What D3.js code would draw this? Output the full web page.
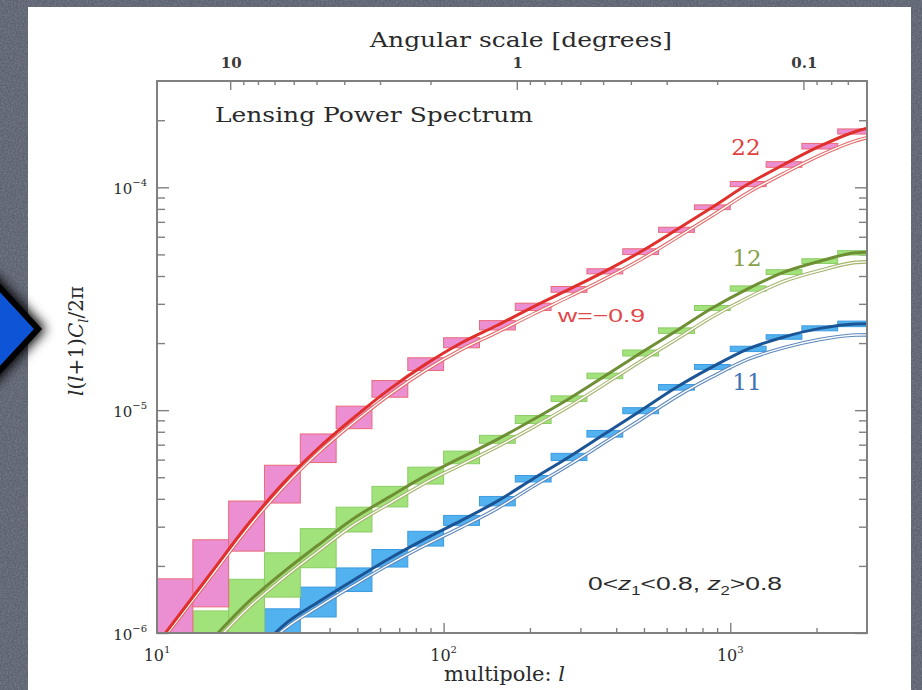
<!DOCTYPE html>
<html>
<head>
<meta charset="utf-8">
<script src="https://cdn.jsdelivr.net/npm/d3@7"></script>
<style>
  html, body { margin: 0; padding: 0; background: #5c6170; }
  svg { display: block; }
</style>
</head>
<body>
<svg id="chart" width="922" height="690"></svg>
<script>
// ---- Data -------------------------------------------------------------
// Multipole bins (8 per decade), last edge cut at the plot limit
const binEdges = [10, 13.34, 17.78, 23.71, 31.62, 42.17, 56.23, 74.99, 100, 133.4,
                  177.8, 237.1, 316.2, 421.7, 562.3, 749.9, 1000, 1334, 1778, 2371, 3000];

// Band-power error boxes (lower / upper edge of each bin)
const box22Lo = [7.1e-7, 1.31e-6, 2.33e-6, 3.83e-6, 5.82e-6, 8.26e-6, 1.143e-5, 1.507e-5, 1.905e-5, 2.291e-5,
                 2.80e-5, 3.38e-5, 4.09e-5, 4.99e-5, 6.28e-5, 7.94e-5, 1.007e-4, 1.230e-4, 1.486e-4, 1.734e-4];
const box22Hi = [1.75e-6, 2.62e-6, 3.91e-6, 5.66e-6, 7.82e-6, 1.042e-5, 1.358e-5, 1.718e-5, 2.113e-5, 2.523e-5,
                 3.02e-5, 3.59e-5, 4.31e-5, 5.30e-5, 6.62e-5, 8.34e-5, 1.062e-4, 1.303e-4, 1.574e-4, 1.828e-4];
const box12Lo = [null, 6.3e-7, 9.5e-7, 1.449e-6, 1.963e-6, 2.84e-6, 3.68e-6, 4.66e-6, 5.75e-6, 7.10e-6,
                 8.71e-6, 1.094e-5, 1.384e-5, 1.750e-5, 2.21e-5, 2.80e-5, 3.42e-5, 4.06e-5, 4.55e-5, 4.97e-5];
const box12Hi = [null, 1.256e-6, 1.742e-6, 2.29e-6, 2.94e-6, 3.67e-6, 4.55e-6, 5.55e-6, 6.55e-6, 7.71e-6,
                 9.46e-6, 1.159e-5, 1.466e-5, 1.862e-5, 2.34e-5, 2.95e-5, 3.61e-5, 4.27e-5, 4.78e-5, 5.20e-5];
const box11Lo = [null, null, null, 7.6e-7, 1.180e-6, 1.535e-6, 1.977e-6, 2.455e-6, 3.04e-6, 3.72e-6,
                 4.76e-6, 5.94e-6, 7.57e-6, 9.64e-6, 1.230e-5, 1.524e-5, 1.832e-5, 2.08e-5, 2.27e-5, 2.37e-5];
const box11Hi = [null, null, null, 1.284e-6, 1.607e-6, 1.959e-6, 2.37e-6, 2.86e-6, 3.37e-6, 4.10e-6,
                 5.09e-6, 6.40e-6, 8.11e-6, 1.026e-5, 1.303e-5, 1.603e-5, 1.936e-5, 2.18e-5, 2.39e-5, 2.51e-5];

// Model curves sampled in multipole
const ell = [10, 11.55, 15.40, 20.54, 27.38, 36.52, 48.70, 64.94, 86.60, 115.5, 154.0,
             205.4, 273.8, 365.2, 487.0, 649.4, 866.0, 1155, 1540, 2054, 2738, 3000];

// Fiducial model (thick lines)
const fid22 = [8.91e-7, 1.138e-6, 1.854e-6, 3.020e-6, 4.656e-6, 6.745e-6, 9.279e-6, 1.246e-5, 1.609e-5, 2.007e-5, 2.404e-5,
               2.908e-5, 3.483e-5, 4.198e-5, 5.140e-5, 6.449e-5, 8.138e-5, 1.034e-4, 1.266e-4, 1.529e-4, 1.781e-4, 1.841e-4];
const fid12 = [null, null, 9.23e-7, 1.355e-6, 1.862e-6, 2.483e-6, 3.273e-6, 4.093e-6, 5.082e-6, 6.138e-6, 7.396e-6,
               9.078e-6, 1.126e-5, 1.424e-5, 1.805e-5, 2.273e-5, 2.874e-5, 3.512e-5, 4.165e-5, 4.662e-5, 5.082e-5, 5.111e-5];
const fid11 = [null, null, null, 7.24e-7, 1.072e-6, 1.377e-6, 1.734e-6, 2.165e-6, 2.652e-6, 3.203e-6, 3.905e-6,
               4.926e-6, 6.166e-6, 7.834e-6, 9.943e-6, 1.266e-5, 1.563e-5, 1.884e-5, 2.131e-5, 2.328e-5, 2.438e-5, 2.443e-5];

// w = -0.9 model (thin outlined lines)
const alt22 = [8.67e-7, 1.102e-6, 1.786e-6, 2.904e-6, 4.467e-6, 6.442e-6, 8.822e-6, 1.176e-5, 1.512e-5, 1.873e-5, 2.239e-5,
               2.701e-5, 3.228e-5, 3.882e-5, 4.742e-5, 5.936e-5, 7.472e-5, 9.474e-5, 1.155e-4, 1.391e-4, 1.616e-4, 1.671e-4];
const alt12 = [null, null, 8.71e-7, 1.276e-6, 1.750e-6, 2.328e-6, 3.062e-6, 3.819e-6, 4.732e-6, 5.702e-6, 6.855e-6,
               8.395e-6, 1.039e-5, 1.311e-5, 1.658e-5, 2.082e-5, 2.627e-5, 3.203e-5, 3.789e-5, 4.232e-5, 4.603e-5, 4.630e-5];
const alt11 = [null, null, null, 6.95e-7, 1.023e-6, 1.309e-6, 1.641e-6, 2.040e-6, 2.486e-6, 2.989e-6, 3.627e-6,
               4.556e-6, 5.675e-6, 7.178e-6, 9.068e-6, 1.150e-5, 1.413e-5, 1.694e-5, 1.908e-5, 2.075e-5, 2.173e-5, 2.178e-5];

// Axis ticks
const yMajorTicks = [1e-6, 1e-5, 1e-4];
const yMinorTicks = [2e-6, 3e-6, 4e-6, 5e-6, 6e-6, 7e-6, 8e-6, 9e-6,
                     2e-5, 3e-5, 4e-5, 5e-5, 6e-5, 7e-5, 8e-5, 9e-5, 2e-4];
const xMajorTicks = [10, 100, 1000];
const xMinorTicks = [20, 30, 40, 50, 60, 70, 80, 90, 200, 300, 400, 500, 600, 700, 800, 900, 2000];
const angMajorTicks = [10, 1, 0.1];
const angMajorLabels = ["10", "1", "0.1"];
const angMinorTicks = [9, 8, 7, 6, 5, 4, 3, 2, 0.9, 0.8, 0.7, 0.6, 0.5, 0.4, 0.3, 0.2, 0.09, 0.08, 0.07];

// ---- Layout -----------------------------------------------------------
const svg = d3.select("#chart");
const W = 922, H = 690;
const plot = { left: 157, right: 867, top: 81, bottom: 633 };

const x = d3.scaleLog().domain([10, 3000]).range([plot.left, plot.right]);
const y = d3.scaleLog().domain([1e-6, 3e-4]).range([plot.bottom, plot.top]);
// angular scale in degrees: theta = 180 / l
const xAng = d3.scaleLog().domain([180 / 10, 180 / 3000]).range([plot.left, plot.right]);

const defs = svg.append("defs");

// slate backdrop with a little grain
const grain = defs.append("filter").attr("id", "grain").attr("x", 0).attr("y", 0).attr("width", 1).attr("height", 1);
grain.append("feTurbulence").attr("type", "fractalNoise").attr("baseFrequency", 0.6).attr("numOctaves", 3).attr("seed", 4);
grain.append("feColorMatrix").attr("type", "matrix")
  .attr("values", "0 0 0 0 0.5  0 0 0 0 0.52  0 0 0 0 0.58  0 0 0 0.9 -0.25");

const shadow = defs.append("filter").attr("id", "shadow").attr("x", "-50%").attr("y", "-50%").attr("width", "200%").attr("height", "200%");
shadow.append("feGaussianBlur").attr("in", "SourceAlpha").attr("stdDeviation", 6);
shadow.append("feOffset").attr("dx", 4).attr("dy", 0).attr("result", "blur");
const merge = shadow.append("feMerge");
merge.append("feMergeNode").attr("in", "blur");
merge.append("feMergeNode").attr("in", "SourceGraphic");

defs.append("clipPath").attr("id", "plotClip")
  .append("rect").attr("x", plot.left).attr("y", plot.top)
  .attr("width", plot.right - plot.left).attr("height", plot.bottom - plot.top);

svg.append("rect").attr("width", W).attr("height", H).attr("fill", "#5c6170");
svg.append("rect").attr("width", W).attr("height", H).attr("filter", "url(#grain)").attr("opacity", 0.5);

// white slide panel
svg.append("rect").attr("x", 28).attr("y", 7).attr("width", 883).attr("height", H).attr("fill", "#ffffff");

// blue pointer on the left edge
svg.append("path")
  .attr("d", "M-60,223 L38,329 L-60,435 Z")
  .attr("fill", "#0a55d6").attr("stroke", "#000").attr("stroke-width", 6)
  .attr("stroke-linejoin", "miter")
  .attr("filter", "url(#shadow)");

const serif = "'DejaVu Serif', 'Liberation Serif', serif";
const sans = "'Liberation Sans', 'DejaVu Sans', sans-serif";
const axisGrey = "#808080";

// ---- Axes (ticks only; frame drawn last) -------------------------------
function styleAxis(g) {
  g.select(".domain").remove();
  g.selectAll(".tick line").attr("stroke", axisGrey).attr("stroke-width", 1.4);
  g.selectAll(".tick text").remove();
}
const axes = svg.append("g");
axes.append("g").attr("transform", `translate(${plot.left},0)`)
  .call(d3.axisRight(y).tickValues(yMinorTicks).tickSize(8)).call(styleAxis);
axes.append("g").attr("transform", `translate(${plot.left},0)`)
  .call(d3.axisRight(y).tickValues(yMajorTicks).tickSize(12)).call(styleAxis);
axes.append("g").attr("transform", `translate(${plot.right},0)`)
  .call(d3.axisLeft(y).tickValues(yMinorTicks).tickSize(8)).call(styleAxis);
axes.append("g").attr("transform", `translate(${plot.right},0)`)
  .call(d3.axisLeft(y).tickValues(yMajorTicks).tickSize(12)).call(styleAxis);
axes.append("g").attr("transform", `translate(0,${plot.bottom})`)
  .call(d3.axisTop(x).tickValues(xMinorTicks).tickSize(5)).call(styleAxis);
axes.append("g").attr("transform", `translate(0,${plot.bottom})`)
  .call(d3.axisTop(x).tickValues(xMajorTicks).tickSize(10)).call(styleAxis);
axes.append("g").attr("transform", `translate(0,${plot.top})`)
  .call(d3.axisBottom(xAng).tickValues(angMinorTicks).tickSize(4)).call(styleAxis);
axes.append("g").attr("transform", `translate(0,${plot.top})`)
  .call(d3.axisBottom(xAng).tickValues(angMajorTicks).tickSize(9)).call(styleAxis);

// ---- Data marks --------------------------------------------------------
const series = [
  { key: "11", lo: box11Lo, hi: box11Hi, fid: fid11, alt: alt11,
    fill: "#52b2ef", edge: "#3d9be0", line: "#1c5596", thin: "#5d88bd" },
  { key: "12", lo: box12Lo, hi: box12Hi, fid: fid12, alt: alt12,
    fill: "#a2e27a", edge: "#8ccc66", line: "#6f8f35", thin: "#a4b46c" },
  { key: "22", lo: box22Lo, hi: box22Hi, fid: fid22, alt: alt22,
    fill: "#ec8fd2", edge: "#e86a78", line: "#e0302c", thin: "#e46a68" }
];

const marks = svg.append("g").attr("clip-path", "url(#plotClip)");

series.forEach(s => {
  const bins = s.lo.map((lo, i) => ({ l0: binEdges[i], l1: binEdges[i + 1], lo, hi: s.hi[i] }))
    .filter(d => d.lo != null && d.hi != null);
  marks.append("g").selectAll("rect").data(bins).join("rect")
    .attr("x", d => x(d.l0))
    .attr("width", d => x(d.l1) - x(d.l0))
    .attr("y", d => y(d.hi))
    .attr("height", d => y(d.lo) - y(d.hi))
    .attr("fill", s.fill)
    .attr("stroke", s.edge)
    .attr("stroke-width", 1);
});

const lineGen = d3.line()
  .defined(d => d[1] != null)
  .x(d => x(d[0]))
  .y(d => y(d[1]))
  .curve(d3.curveMonotoneX);

series.forEach(s => {
  const pts = ell.map((l, i) => [l, s.alt[i]]);
  marks.append("path").attr("d", lineGen(pts))
    .attr("fill", "none").attr("stroke", s.thin).attr("stroke-width", 3.6);
  marks.append("path").attr("d", lineGen(pts))
    .attr("fill", "none").attr("stroke", "#ffffff").attr("stroke-width", 1.4);
});
series.forEach(s => {
  const pts = ell.map((l, i) => [l, s.fid[i]]);
  marks.append("path").attr("d", lineGen(pts))
    .attr("fill", "none").attr("stroke", s.line).attr("stroke-width", 3);
});

// frame
svg.append("rect")
  .attr("x", plot.left).attr("y", plot.top)
  .attr("width", plot.right - plot.left).attr("height", plot.bottom - plot.top)
  .attr("fill", "none").attr("stroke", axisGrey).attr("stroke-width", 2);

// ---- Tick labels -------------------------------------------------------
const textCol = "#2a2a2a";
const yLab = svg.append("g").attr("font-family", serif).attr("fill", textCol);
yMajorTicks.forEach(v => {
  const t = yLab.append("text").attr("x", 147).attr("y", y(v) + 7).attr("text-anchor", "end").attr("font-size", 15);
  t.append("tspan").text("10");
  t.append("tspan").attr("font-size", 10).attr("dy", -8).text("\u2212" + Math.round(-Math.log10(v)));
});
xMajorTicks.forEach(v => {
  const t = yLab.append("text").attr("x", x(v)).attr("y", 661).attr("text-anchor", "middle").attr("font-size", 16);
  t.append("tspan").text("10");
  t.append("tspan").attr("font-size", 10).attr("dy", -8).text(Math.round(Math.log10(v)));
});
angMajorTicks.forEach((v, i) => {
  yLab.append("text").attr("x", xAng(v) + 1).attr("y", 68).attr("text-anchor", "middle")
    .attr("font-size", 15).attr("font-weight", "bold").attr("fill", "#3a3a3a").text(angMajorLabels[i]);
});

// ---- Titles and annotations -------------------------------------------
svg.append("text").attr("x", 521).attr("y", 47).attr("text-anchor", "middle")
  .attr("font-family", serif).attr("font-size", 21).attr("fill", textCol)
  .attr("textLength", 302).attr("lengthAdjust", "spacingAndGlyphs")
  .text("Angular scale [degrees]");

svg.append("text").attr("x", 215).attr("y", 122)
  .attr("font-family", serif).attr("font-size", 21).attr("fill", textCol)
  .attr("textLength", 318).attr("lengthAdjust", "spacingAndGlyphs")
  .text("Lensing Power Spectrum");

const xt = svg.append("text").attr("x", 444).attr("y", 681)
  .attr("font-family", serif).attr("font-size", 21).attr("fill", textCol);
xt.append("tspan").text("multipole: ");
xt.append("tspan").attr("font-style", "italic").text("l");

const yt = svg.append("text")
  .attr("transform", "translate(83,341) rotate(-90)")
  .attr("text-anchor", "middle")
  .attr("font-family", serif).attr("font-size", 20).attr("fill", textCol);
yt.append("tspan").attr("font-style", "italic").text("l");
yt.append("tspan").text("(");
yt.append("tspan").attr("font-style", "italic").text("l");
yt.append("tspan").text("+1)");
yt.append("tspan").attr("font-style", "italic").text("C");
yt.append("tspan").attr("font-style", "italic").attr("font-size", 13).attr("dy", 5).text("l");
yt.append("tspan").attr("dy", -5).text("/2\u03c0");

const seriesLabels = [
  { text: "22", x: 746, y: 155, color: "#e3403e" },
  { text: "12", x: 747, y: 266, color: "#86a04a" },
  { text: "11", x: 747, y: 390, color: "#3f73b4" }
];
seriesLabels.forEach(d => {
  svg.append("text").attr("x", d.x).attr("y", d.y).attr("text-anchor", "middle")
    .attr("font-family", serif).attr("font-size", 23).attr("fill", d.color).text(d.text);
});

svg.append("text").attr("x", 558).attr("y", 322)
  .attr("font-family", sans).attr("font-size", 19).attr("fill", "#e04848")
  .attr("textLength", 87).attr("lengthAdjust", "spacingAndGlyphs")
  .text("w=\u22120.9");

const zt = svg.append("text").attr("x", 588).attr("y", 590)
  .attr("font-family", sans).attr("font-size", 19).attr("fill", textCol)
  .attr("textLength", 194).attr("lengthAdjust", "spacingAndGlyphs");
zt.append("tspan").text("0<");
zt.append("tspan").attr("font-style", "italic").text("z");
zt.append("tspan").attr("font-size", 12).attr("dy", 5).text("1");
zt.append("tspan").attr("dy", -5).text("<0.8,  ");
zt.append("tspan").attr("font-style", "italic").text("z");
zt.append("tspan").attr("font-size", 12).attr("dy", 5).text("2");
zt.append("tspan").attr("dy", -5).text(">0.8");
</script>
</body>
</html>
